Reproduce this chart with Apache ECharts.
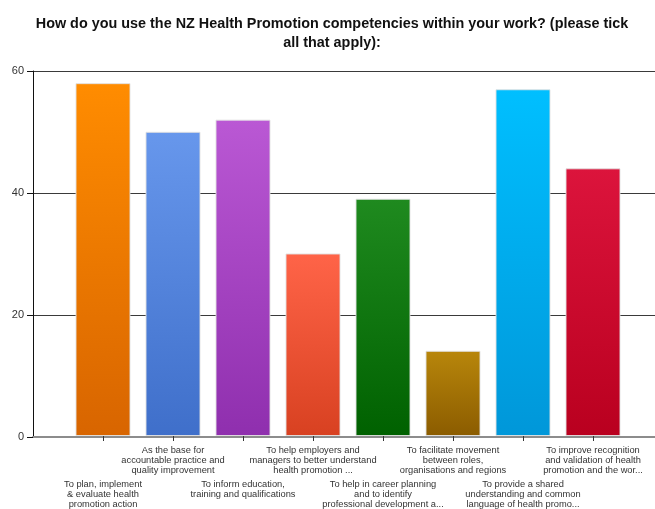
<!DOCTYPE html>
<html>
<head>
<meta charset="utf-8">
<script src="https://cdn.jsdelivr.net/npm/echarts@6/dist/echarts.min.js"></script>
<style>
  html, body { margin: 0; padding: 0; background: #fff; }
  #chart { width: 655px; height: 509px; }
</style>
</head>
<body>
<div id="chart"></div>
<script>
// Survey responses: how the NZ Health Promotion competencies are used
const categories = [
  'To plan, implement\n& evaluate health\npromotion action',
  'As the base for\naccountable practice and\nquality improvement',
  'To inform education,\ntraining and qualifications',
  'To help employers and\nmanagers to better understand\nhealth promotion ...',
  'To help in career planning\nand to identify\nprofessional development a...',
  'To facilitate movement\nbetween roles,\norganisations and regions',
  'To provide a shared\nunderstanding and common\nlanguage of health promo...',
  'To improve recognition\nand validation of health\npromotion and the wor...'
];
const responses = [58, 50, 52, 30, 39, 14, 57, 44];
const yTicks = { min: 0, max: 60, interval: 20 };

// top / bottom colours of each bar's vertical gradient
const barTop = ['#ff8c00', '#6797ec', '#ba58d4', '#ff6448', '#1f8a1f', '#b8860b', '#00bfff', '#dc143c'];
const barBottom = ['#d86500', '#3f6fca', '#8f2fae', '#d84121', '#006100', '#8b5c00', '#0097d9', '#b9001f'];

const chart = echarts.init(document.getElementById('chart'), null, { renderer: 'canvas' });

const barData = responses.map((v, i) => ({
  value: v,
  itemStyle: {
    color: new echarts.graphic.LinearGradient(0, 0, 0, 1, [
      { offset: 0, color: barTop[i] },
      { offset: 1, color: barBottom[i] }
    ])
  }
}));

chart.setOption({
  animation: false,
  backgroundColor: '#ffffff',
  title: {
    text: 'How do you use the NZ Health Promotion competencies within your work? (please tick\nall that apply):',
    left: 327,
    top: 10,
    textAlign: 'center',
    textStyle: {
      fontFamily: 'Liberation Sans, Arial, sans-serif',
      fontSize: 14.4,
      fontWeight: 'bold',
      color: '#111',
      lineHeight: 19
    }
  },
  grid: [
    // frame with the value axis and its gridlines
    { left: 33, right: -20, top: 71, bottom: 72, containLabel: false },
    // bars
    { left: 68, width: 560, top: 71, bottom: 72, containLabel: false }
  ],
  xAxis: [
    {
      gridIndex: 0,
      type: 'value',
      min: 0,
      max: 1,
      axisLine: { show: true, lineStyle: { color: '#8c8c8c', width: 2 } },
      axisTick: { show: false },
      axisLabel: { show: false },
      splitLine: { show: false }
    },
    {
      gridIndex: 1,
      type: 'category',
      data: categories,
      axisLine: { show: false },
      axisTick: { show: true, alignWithLabel: true, length: 5, lineStyle: { color: '#333' } },
      axisLabel: {
        interval: 0,
        hideOverlap: false,
        margin: 10,
        fontFamily: 'Liberation Sans, Arial, sans-serif',
        fontSize: 9.3,
        lineHeight: 9.8,
        color: '#333',
        align: 'center',
        formatter: (val, idx) => (idx % 2 === 0 ? '{g| }\n' + val : val),
        rich: { g: { lineHeight: 33.6, fontSize: 9 } }
      },
      splitLine: { show: false }
    }
  ],
  yAxis: [
    {
      gridIndex: 0,
      type: 'value',
      min: yTicks.min,
      max: yTicks.max,
      interval: yTicks.interval,
      axisLine: { show: true, lineStyle: { color: '#111', width: 1 } },
      axisTick: { show: true, length: 6, lineStyle: { color: '#111' } },
      axisLabel: {
        margin: 9,
        fontFamily: 'Liberation Sans, Arial, sans-serif',
        fontSize: 11,
        color: '#333'
      },
      splitLine: { show: true, lineStyle: { color: '#3a3a3a', width: 1 } }
    },
    {
      gridIndex: 1,
      type: 'value',
      min: yTicks.min,
      max: yTicks.max,
      interval: yTicks.interval,
      show: false,
      splitLine: { show: false }
    }
  ],
  series: [
    {
      type: 'bar',
      xAxisIndex: 1,
      yAxisIndex: 1,
      data: barData,
      barWidth: 55,
      itemStyle: { borderColor: 'rgba(225,225,225,0.9)', borderWidth: 1 }
    }
  ]
});
</script>
</body>
</html>
